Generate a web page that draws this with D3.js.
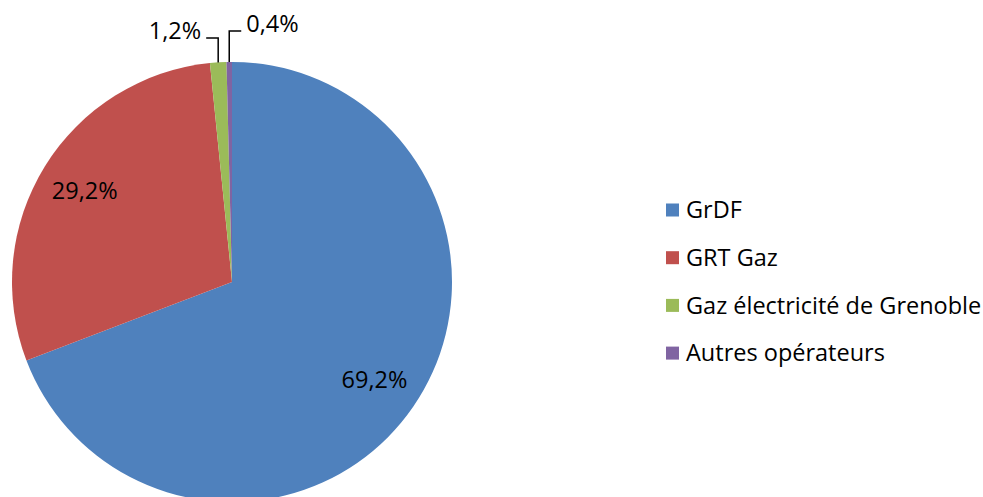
<!DOCTYPE html>
<html>
<head>
<meta charset="utf-8">
<script src="https://cdn.jsdelivr.net/npm/d3@7"></script>
<style>
  body { margin: 0; background: #fff; }
  svg { display: block; font-family: "Open Sans", Lato, "Liberation Sans", sans-serif; }
</style>
</head>
<body>
<svg id="chart" width="983" height="497"></svg>
<script>
// data
var operators = ["GrDF", "GRT Gaz", "Gaz électricité de Grenoble", "Autres opérateurs"];
var shares = [69.2, 29.2, 1.2, 0.4];
var labels = ["69,2%", "29,2%", "1,2%", "0,4%"];
var colors = ["#4f81bd", "#c0504d", "#9bbb59", "#8064a2"];

var svg = d3.select("#chart");
var cx = 232, cy = 282, radius = 220;
var fontSize = 23.5;

var color = d3.scaleOrdinal().domain(operators).range(colors);

var pie = d3.pie().sort(null).value(function(d){ return d.value; });
var arc = d3.arc().innerRadius(0).outerRadius(radius);
var labelArc = d3.arc().innerRadius(173).outerRadius(173);

var rows = operators.map(function(name, i){ return {name: name, value: shares[i], label: labels[i]}; });
var slices = pie(rows);

var g = svg.append("g").attr("transform", "translate(" + cx + "," + cy + ")");

g.selectAll("path.slice")
  .data(slices)
  .enter().append("path")
  .attr("class", "slice")
  .attr("d", arc)
  .attr("fill", function(d){ return color(d.data.name); });

// labels inside big slices
g.selectAll("text.inside")
  .data(slices.filter(function(d){ return d.data.value > 5; }))
  .enter().append("text")
  .attr("class", "inside")
  .attr("transform", function(d){ return "translate(" + labelArc.centroid(d) + ")"; })
  .attr("text-anchor", "middle")
  .attr("dy", "0.35em")
  .attr("font-size", fontSize)
  .attr("fill", "#000")
  .text(function(d){ return d.data.label; });

// small slices: leader lines going up, labels outside
var small = slices.filter(function(d){ return d.data.value <= 5; });
var leaderTop = [-244, -251];   // y of the elbow, relative to centre
var side = [-1, 1];             // label on the left or right

small.forEach(function(d, i){
  var a = (d.startAngle + d.endAngle) / 2;
  var x0 = radius * Math.sin(a), y0 = -radius * Math.cos(a);
  var y1 = leaderTop[i];
  var x2 = x0 + side[i] * 12;
  g.append("polyline")
    .attr("points", [[x0, y0], [x0, y1], [x2, y1]].map(function(p){ return p.join(","); }).join(" "))
    .attr("fill", "none")
    .attr("stroke", "#000")
    .attr("stroke-width", 1.5);
  g.append("text")
    .attr("x", x2 + side[i] * 5)
    .attr("y", y1 - 7)
    .attr("dy", "0.35em")
    .attr("text-anchor", side[i] < 0 ? "end" : "start")
    .attr("font-size", fontSize)
    .attr("fill", "#000")
    .text(d.data.label);
});

// legend
var legend = svg.append("g").attr("transform", "translate(666,210)");
var item = legend.selectAll("g")
  .data(operators)
  .enter().append("g")
  .attr("transform", function(d, i){ return "translate(0," + (i * 47.7) + ")"; });

item.append("rect")
  .attr("x", 0).attr("y", -6.5)
  .attr("width", 13).attr("height", 13)
  .attr("fill", function(d){ return color(d); });

item.append("text")
  .attr("x", 20)
  .attr("dy", "0.35em")
  .attr("font-size", fontSize)
  .attr("fill", "#000")
  .text(function(d){ return d; });
</script>
</body>
</html>
